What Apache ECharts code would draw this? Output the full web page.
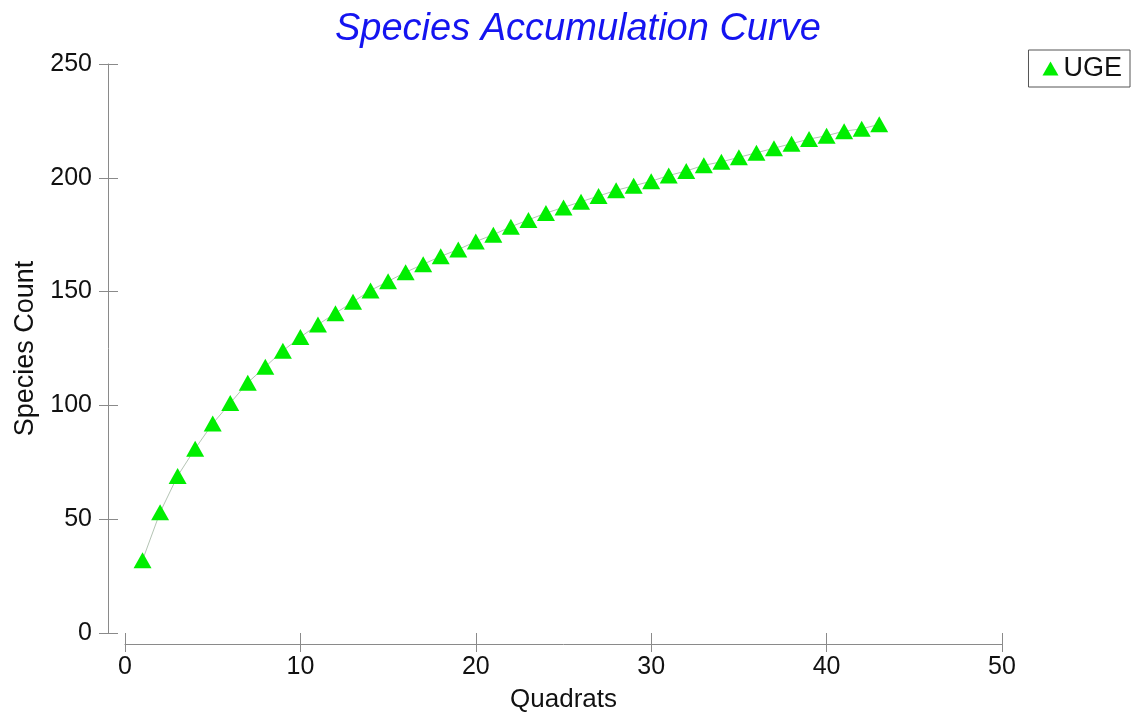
<!DOCTYPE html>
<html>
<head>
<meta charset="utf-8">
<title>Species Accumulation Curve</title>
<script src="https://cdn.jsdelivr.net/npm/echarts@6/dist/echarts.min.js"></script>
<style>
  html, body { margin: 0; padding: 0; background: #fff; }
  #chart { width: 1134px; height: 715px; }
</style>
</head>
<body>
<div id="chart"></div>
<script>
// quadrats 1..43 and accumulated species count
const quadrats = [1, 2, 3, 4, 5, 6, 7, 8, 9, 10, 11, 12, 13, 14, 15, 16, 17, 18, 19, 20, 21, 22,
  23, 24, 25, 26, 27, 28, 29, 30, 31, 32, 33, 34, 35, 36, 37, 38, 39, 40, 41, 42, 43]
const speciesCount = [32, 53, 69, 81, 92, 101, 110, 117, 124, 130, 135.5, 140.5, 145.5, 150.5, 154.5,
  158.5, 162, 165.5, 168.5, 172, 175, 178.5, 181.5, 184.5, 187, 189.5, 192, 194.5, 196.5, 198.5,
  201, 203, 205.5, 207, 209, 211, 213, 215, 217, 218.5, 220.5, 221.5, 223.5]
const xTicks = [0, 10, 20, 30, 40, 50]
const yTicks = [0, 50, 100, 150, 200, 250]

const font = "Liberation Sans, Arial, sans-serif"
const axisColor = "#8a8a8a"

const chart = echarts.init(document.getElementById("chart"))

// second copy of each axis only draws the inner half of the ticks (ticks cross the line)
const xBase = {
  type: "value",
  position: "bottom",
  min: xTicks[0],
  max: xTicks[xTicks.length - 1],
  interval: xTicks[1] - xTicks[0],
  offset: 11,
  splitLine: { show: false }
}
const yBase = {
  type: "value",
  position: "left",
  min: yTicks[0],
  max: yTicks[yTicks.length - 1],
  interval: yTicks[1] - yTicks[0],
  offset: 17,
  splitLine: { show: false }
}

const option = {
  backgroundColor: "#fff",
  animation: false,
  title: {
    text: "Species Accumulation Curve",
    left: 330,
    top: 5,
    textStyle: {
      fontFamily: font,
      fontSize: 38,
      fontStyle: "italic",
      fontWeight: "normal",
      color: "#1414f0"
    }
  },
  legend: {
    data: [{ name: "UGE", icon: "triangle" }],
    right: 4,
    top: 50,
    orient: "vertical",
    padding: [5, 8, 5, 14],
    borderColor: "#555",
    borderWidth: 1,
    itemWidth: 16,
    itemHeight: 14,
    itemGap: 0,
    textStyle: { fontFamily: font, fontSize: 27, color: "#111" }
  },
  grid: {
    left: 125,
    right: 132,
    top: 64,
    bottom: 82,
    outerBoundsMode: "none"
  },
  xAxis: [
    Object.assign({}, xBase, {
      name: "Quadrats",
      nameLocation: "middle",
      nameGap: 43,
      nameTextStyle: { fontFamily: font, fontSize: 26, color: "#111" },
      axisLine: { show: true, onZero: false, lineStyle: { color: axisColor, width: 1 } },
      axisTick: { show: true, inside: false, length: 8, lineStyle: { color: axisColor } },
      axisLabel: { margin: 11, fontFamily: font, fontSize: 25, color: "#111" }
    }),
    Object.assign({}, xBase, {
      axisLine: { show: false, onZero: false },
      axisTick: { show: true, inside: true, length: 11, lineStyle: { color: axisColor } },
      axisLabel: { show: false }
    })
  ],
  yAxis: [
    Object.assign({}, yBase, {
      name: "Species Count",
      nameLocation: "middle",
      nameGap: 63,
      nameTextStyle: { fontFamily: font, fontSize: 27, color: "#111" },
      axisLine: { show: true, onZero: false, lineStyle: { color: axisColor, width: 1 } },
      axisTick: { show: true, inside: false, length: 9, lineStyle: { color: axisColor } },
      axisLabel: { margin: 16, fontFamily: font, fontSize: 25, color: "#111" }
    }),
    Object.assign({}, yBase, {
      axisLine: { show: false, onZero: false },
      axisTick: { show: true, inside: true, length: 10, lineStyle: { color: axisColor } },
      axisLabel: { show: false }
    })
  ],
  series: [
    {
      name: "UGE",
      type: "line",
      xAxisIndex: 0,
      yAxisIndex: 0,
      data: quadrats.map((q, i) => [q, speciesCount[i]]),
      symbol: "triangle",
      symbolSize: [18, 16],
      itemStyle: { color: "#00ee00" },
      lineStyle: { color: "#b4c4b4", width: 1 }
    }
  ]
}
chart.setOption(option)
</script>
</body>
</html>
